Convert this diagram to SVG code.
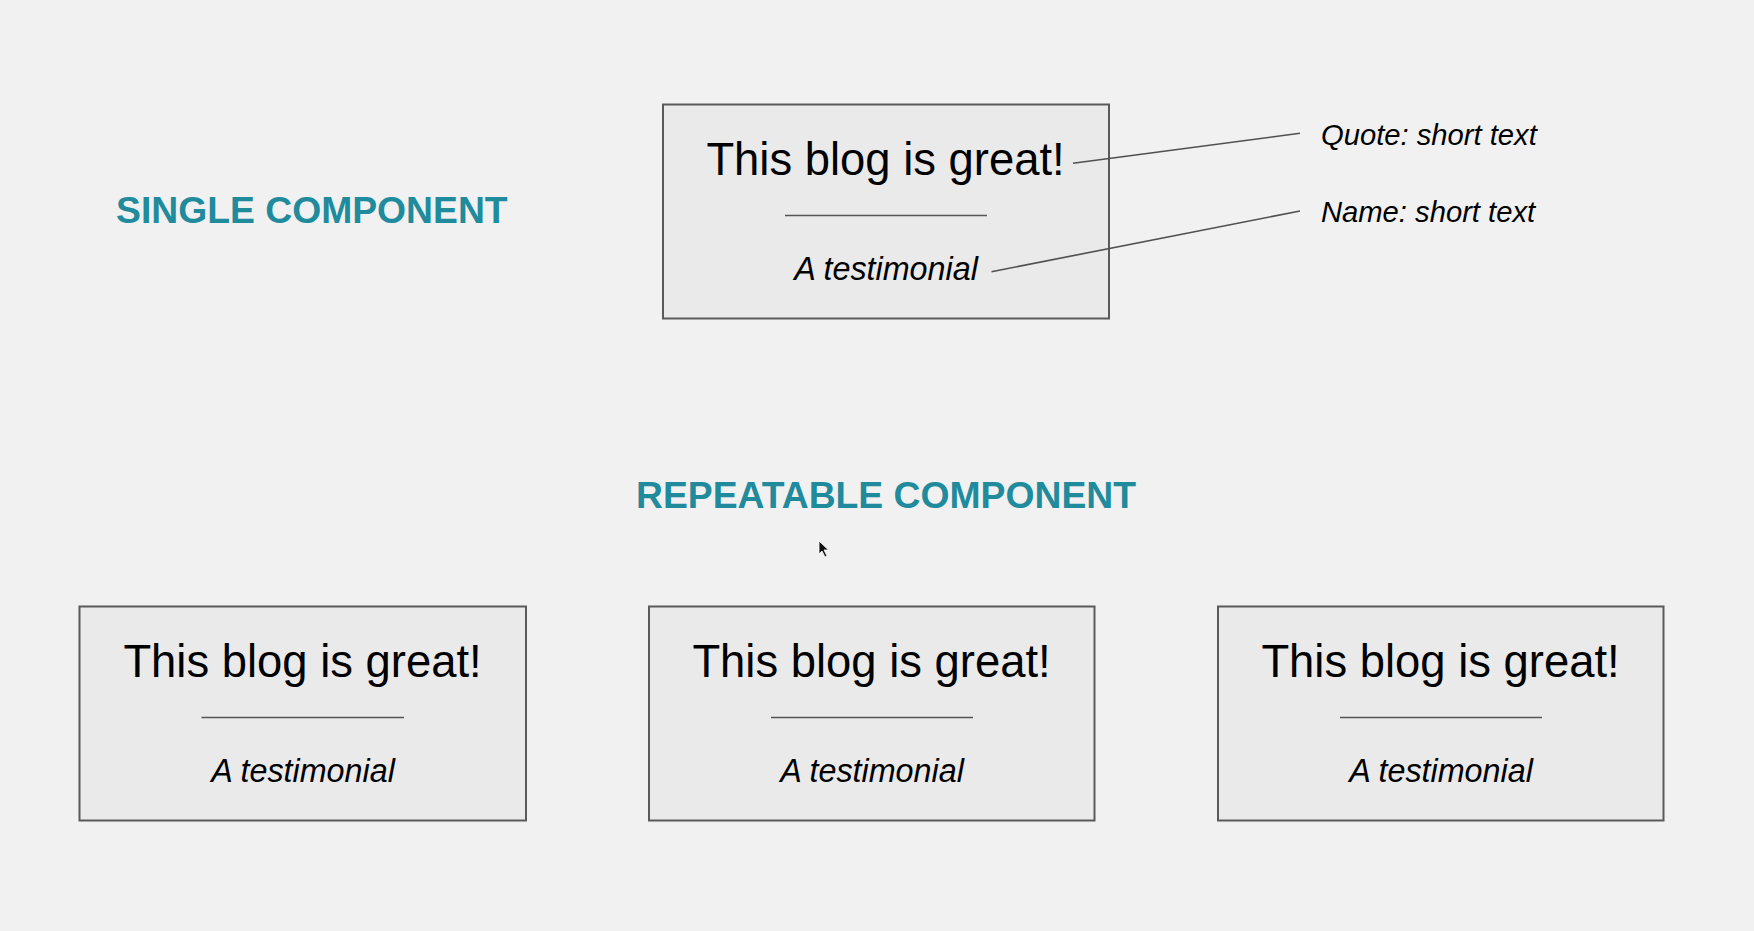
<svg xmlns="http://www.w3.org/2000/svg" width="1754" height="931" viewBox="0 0 1754 931">
  <style>
    .card { fill: #eaeaea; stroke: #5a5a5a; stroke-width: 2; }
    .rule { stroke: #555555; stroke-width: 1.6; }
    .quote { font-family: "Liberation Sans", Arial, sans-serif; font-size: 45.4px; fill: #000000; text-anchor: middle; }
    .name { font-family: "Liberation Sans", Arial, sans-serif; font-size: 32.3px; font-style: italic; fill: #000000; text-anchor: middle; }
    .heading { font-family: "Liberation Sans", Arial, sans-serif; font-size: 37.3px; font-weight: bold; fill: #1f8b9c; }
    .note { font-family: "Liberation Sans", Arial, sans-serif; font-size: 29.2px; font-style: italic; fill: #000000; }
    .leader { stroke: #505050; stroke-width: 1.6; fill: none; }
  </style>

  <rect x="0" y="0" width="1754" height="931" fill="#f1f1f1"/>

  <!-- Section headings -->
  <text class="heading" x="116" y="223">SINGLE COMPONENT</text>
  <text class="heading" x="886" y="507.5" text-anchor="middle">REPEATABLE COMPONENT</text>

  <!-- Single testimonial card -->
  <g id="single-card">
    <rect class="card" x="663" y="104.5" width="446" height="214"/>
    <text class="quote" x="885.5" y="175">This blog is great!</text>
    <line class="rule" x1="785" y1="215.5" x2="987" y2="215.5"/>
    <text class="name" x="886" y="280">A testimonial</text>
  </g>

  <!-- Field annotations -->
  <g id="label-quote">
    <text class="note" x="1321" y="145">Quote: short text</text>
  </g>
  <g id="label-name">
    <text class="note" x="1321" y="221.5">Name: short text</text>
  </g>

  <g id="connectors">
    <line class="leader" x1="1073" y1="163.3" x2="1300" y2="133.3"/>
    <line class="leader" x1="991.5" y1="271.7" x2="1300" y2="211"/>
  </g>

  <!-- Repeated testimonial cards -->
  <g id="card-1">
    <rect class="card" x="79.5" y="606.5" width="446.5" height="214"/>
    <text class="quote" x="302.5" y="676.5">This blog is great!</text>
    <line class="rule" x1="201.5" y1="717.5" x2="404" y2="717.5"/>
    <text class="name" x="303" y="782">A testimonial</text>
  </g>
  <g id="card-2">
    <rect class="card" x="649" y="606.5" width="445.5" height="214"/>
    <text class="quote" x="871.5" y="676.5">This blog is great!</text>
    <line class="rule" x1="771" y1="717.5" x2="973" y2="717.5"/>
    <text class="name" x="872" y="782">A testimonial</text>
  </g>
  <g id="card-3">
    <rect class="card" x="1218" y="606.5" width="445.5" height="214"/>
    <text class="quote" x="1440.5" y="676.5">This blog is great!</text>
    <line class="rule" x1="1340" y1="717.5" x2="1542" y2="717.5"/>
    <text class="name" x="1441" y="782">A testimonial</text>
  </g>

  <!-- Mouse pointer -->
  <path d="M819 541 L819 554 L822 551 L825 557 L827 556 L824 550 L828.5 550 Z" fill="#111111" stroke="#ffffff" stroke-width="0.8"/>
</svg>
